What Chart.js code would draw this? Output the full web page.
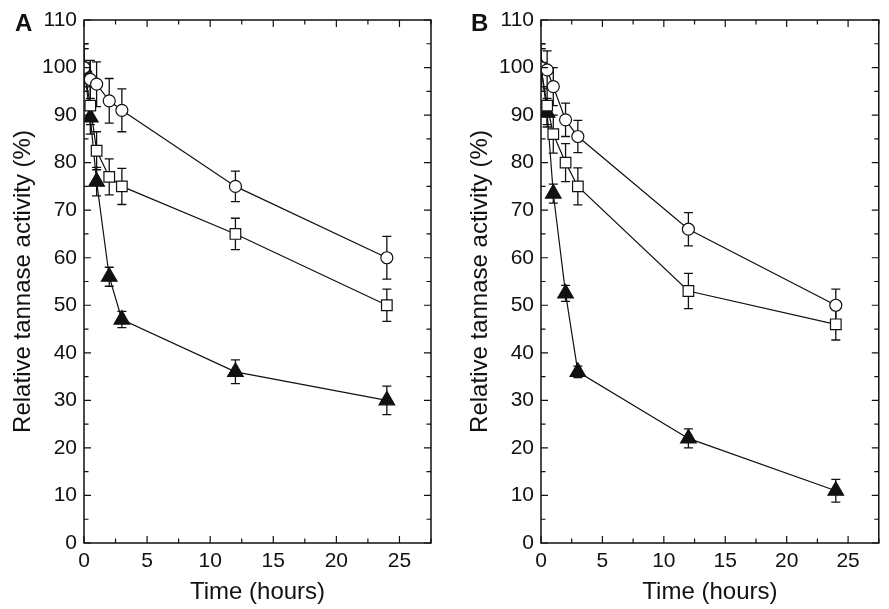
<!DOCTYPE html>
<html>
<head>
<meta charset="utf-8">
<script src="https://cdn.jsdelivr.net/npm/chart.js@4/dist/chart.umd.min.js"></script>
<style>
  html, body { margin: 0; padding: 0; background: #fff; }
  #wrap { position: relative; width: 889px; height: 609px; overflow: hidden; }
  .panel { position: absolute; top: 0; }
  .tag { position: absolute; font: bold 24px "Liberation Sans", Arial, sans-serif; color: #111; }
</style>
</head>
<body>
<div id="wrap">
  <canvas id="chart-a" class="panel" width="444" height="609" style="left:0"></canvas>
  <canvas id="chart-b" class="panel" width="445" height="609" style="left:444px"></canvas>
  <div class="tag" style="left:15px;top:9px">A</div>
  <div class="tag" style="left:471px;top:9px">B</div>
</div>
<script>
// sampling times (hours)
const hours = [0, 0.5, 1, 2, 3, 12, 24];
const xTickLabels = [0, 5, 10, 15, 20, 25];
const yTickLabels = [0, 10, 20, 30, 40, 50, 60, 70, 80, 90, 100, 110];

// panel A
const circleA = [100, 97.5, 96.5, 93, 91, 75, 60];
const circleErrA = [5, 4, 4.7, 4.7, 4.5, 3.2, 4.5];
const squareA = [100, 92, 82.5, 77, 75, 65, 50];
const squareErrA = [4, 4, 4, 3.8, 3.8, 3.3, 3.4];
const triangleA = [100, 89.5, 76, 56, 47, 36, 30];
const triangleErrA = [4, 3.5, 3, 2, 1.7, 2.5, 3];

// panel B
const circleB = [100, 99.5, 96, 89, 85.5, 66, 50];
const circleErrB = [4, 4, 4, 3.5, 3.4, 3.5, 3.4];
const squareB = [100, 92, 86, 80, 75, 53, 46];
const squareErrB = [5, 4, 4, 4, 3.9, 3.7, 3.3];
const triangleB = [100, 90.5, 73.5, 52.5, 36, 22, 11];
const triangleErrB = [4, 3, 2, 1.7, 1.2, 2, 2.4];

const ink = '#111';
const font = '"Liberation Sans", Arial, Helvetica, sans-serif';

// error bars under the marks, box + inward ticks on top
const frame = {
  id: 'frame',
  beforeDatasetsDraw(chart) {
    const { ctx, chartArea: a, scales: { x, y } } = chart;
    ctx.save();
    ctx.beginPath();
    ctx.rect(a.left, a.top, a.right - a.left, a.bottom - a.top);
    ctx.clip();
    ctx.strokeStyle = ink;
    ctx.lineWidth = 1.3;
    chart.data.datasets.forEach(ds => {
      ds.data.forEach((p, i) => {
        const e = ds.errors[i];
        const px = x.getPixelForValue(p.x);
        const hi = y.getPixelForValue(p.y + e);
        const lo = y.getPixelForValue(p.y - e);
        ctx.beginPath();
        ctx.moveTo(px, hi); ctx.lineTo(px, lo);
        ctx.moveTo(px - 4.5, hi); ctx.lineTo(px + 4.5, hi);
        ctx.moveTo(px - 4.5, lo); ctx.lineTo(px + 4.5, lo);
        ctx.stroke();
      });
    });
    ctx.restore();
  },
  afterDraw(chart) {
    const { ctx, chartArea: a, scales: { x, y } } = chart;
    ctx.save();
    ctx.strokeStyle = ink;
    ctx.lineWidth = 1.5;
    ctx.strokeRect(a.left, a.top, a.right - a.left, a.bottom - a.top);
    ctx.lineWidth = 1.2;
    ctx.beginPath();
    yTickLabels.forEach(v => {
      [[v, 7], [v + 5, 4.5]].forEach(([t, len]) => {
        if (t > 110) return;
        const py = y.getPixelForValue(t);
        ctx.moveTo(a.left, py); ctx.lineTo(a.left + len, py);
        ctx.moveTo(a.right, py); ctx.lineTo(a.right - len, py);
      });
    });
    xTickLabels.forEach(v => {
      [[v, 7], [v + 2.5, 4.5]].forEach(([t, len]) => {
        const px = x.getPixelForValue(t);
        ctx.moveTo(px, a.bottom); ctx.lineTo(px, a.bottom - len);
        ctx.moveTo(px, a.top); ctx.lineTo(px, a.top + len);
      });
    });
    ctx.stroke();
    ctx.restore();
  }
};

function series(values, errors, style, radius, filled) {
  return {
    data: hours.map((h, i) => ({ x: h, y: values[i] })),
    errors,
    pointStyle: style,
    pointRadius: radius,
    pointHoverRadius: radius,
    pointBackgroundColor: filled ? ink : '#fff',
    pointBorderColor: ink,
    pointBorderWidth: 1.2,
    borderColor: ink,
    borderWidth: 1.2,
    tension: 0
  };
}

function makePanel(id, yWidth, titlePad, rightPad, sets) {
  new Chart(document.getElementById(id), {
    type: 'line',
    data: { datasets: sets },
    options: {
      responsive: false,
      animation: false,
      layout: { padding: { top: 20, right: rightPad, left: 0, bottom: 0 } },
      plugins: { legend: { display: false }, tooltip: { enabled: false } },
      scales: {
        x: {
          type: 'linear', min: 0, max: 27.5,
          grid: { display: false, drawTicks: false },
          border: { display: false },
          afterBuildTicks: s => { s.ticks = xTickLabels.map(v => ({ value: v })); },
          ticks: { autoSkip: false, maxRotation: 0, padding: 6, color: ink, font: { family: font, size: 21 } },
          title: { display: true, text: 'Time (hours)', color: ink, font: { family: font, size: 24 }, padding: { top: 0, bottom: 2 } },
          afterFit: s => { s.height = 66; }
        },
        y: {
          type: 'linear', min: 0, max: 110,
          grid: { display: false, drawTicks: false },
          border: { display: false },
          afterBuildTicks: s => { s.ticks = yTickLabels.map(v => ({ value: v })); },
          ticks: { autoSkip: false, padding: 7, color: ink, font: { family: font, size: 21 } },
          title: { display: true, text: 'Relative tannase activity (%)', color: ink, font: { family: font, size: 24 }, padding: { top: titlePad, bottom: 0 } },
          afterFit: s => { s.width = yWidth; }
        }
      }
    },
    plugins: [frame]
  });
}

makePanel('chart-a', 84, 9, 13, [
  series(circleA, circleErrA, 'circle', 6, false),
  series(squareA, squareErrA, 'rect', 7.5, false),
  series(triangleA, triangleErrA, 'triangle', 9, true)
]);
makePanel('chart-b', 97, 22, 2, [
  series(circleB, circleErrB, 'circle', 6, false),
  series(squareB, squareErrB, 'rect', 7.5, false),
  series(triangleB, triangleErrB, 'triangle', 9, true)
]);
</script>
</body>
</html>
